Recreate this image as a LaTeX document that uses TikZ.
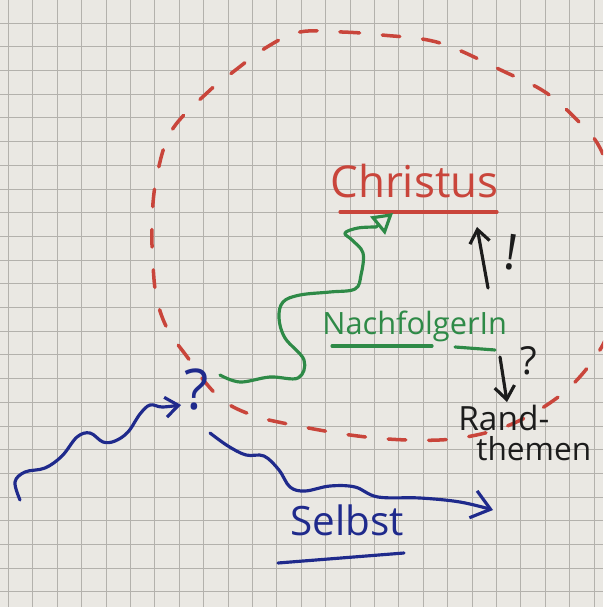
\documentclass[tikz,border=0pt]{standalone}
\usepackage{fontspec}
\setmainfont{Open Sans}
\usetikzlibrary{arrows.meta}
\definecolor{paper}{HTML}{EAE8E3}
\definecolor{gridgray}{HTML}{B3B1AC}
\definecolor{penred}{HTML}{C9453B}
\definecolor{pengreen}{HTML}{2E8A47}
\definecolor{penblue}{HTML}{1F2A8C}
\definecolor{penblack}{HTML}{1C1C1C}
\begin{document}
\begin{tikzpicture}[x=0.02cm, y=-0.02cm, every node/.style={inner sep=0pt},
    gridline/.style={draw=gridgray, line width=0.45pt},
    pen/.style={line width=1.8pt, line cap=round, line join=round},
    circledash/.style={pen, draw=penred, line width=2pt, dash pattern=on 10pt off 13pt}]
\useasboundingbox (0,0) rectangle (603,607);
\fill[paper] (0,0) rectangle (603,607);
\begin{scope}
\clip (0,0) rectangle (603,607);
    \foreach \gx in {0,...,24}
        \draw[gridline] ({8.3+24.4*\gx},0) -- ({8.3+24.4*\gx},607);
    \foreach \gy in {0,...,24}
        \draw[gridline] (0,{23+23.7*\gy}) -- (603,{23+23.7*\gy});
% dashed circle
\draw[circledash] plot[smooth cycle, tension=0.6] coordinates {(300,32) (342,32) (382,35) (440,43) (505,72) (545,92) (575,118) (600,148) (617,200) (621,260) (612,320) (596,356) (562,394) (512,424) (460,438) (408,440) (350,435) (283,423) (252,415) (225,402) (205,382) (188,358) (168,330) (157,300) (153,265) (152,220) (157,175) (172,130) (208,92) (233,72) (267,47)};
\end{scope}
    \node[anchor=base west, text=penred, font=\fontsize{25}{29}\selectfont] (christus) at (330,198) {Christus};
    \node[anchor=base west, text=pengreen, font=\fontsize{17.5}{21}\selectfont] (nachfolger) at (322,334) {NachfolgerIn};
    \node[anchor=base west, text=penblue, font=\fontsize{23}{27}\selectfont] (selbst) at (290,535) {Selbst};
    \node[anchor=base west, text=penblack, font=\fontsize{19}{21}\selectfont] (rand) at (458,430) {Rand-};
    \node[anchor=base west, text=penblack, font=\fontsize{18}{20}\selectfont] (themen) at (476,460) {themen};
    \node[text=penblue, font=\fontsize{32}{36}\selectfont] (qblue) at (197,390) {?};
    \node[text=penblack, font=\fontsize{22}{26}\selectfont] (qblack) at (529,361) {?};
    \node[text=penblack, font=\fontsize{28}{32}\selectfont, rotate=-8] (excl) at (511,252) {!};
\coordinate (upS) at (488,288);
\coordinate (upE) at (477,227);
\coordinate (downS) at (500,357);
\coordinate (downE) at (507,402);
    \foreach \from/\to in {upS/upE, downS/downE}
        \draw[pen, penblack, -{Straight Barb[length=2.6mm, width=4mm]}] (\from) -- (\to);
% underlines
\draw[pen, penred] (340,212) -- (497,212);
\draw[pen, pengreen] (332,346) -- (432,346);
\draw[pen, pengreen] (455,347) -- (495,350);
\draw[pen, penblue] (278,563) -- (404,553);
% way to Christus
\draw[pen, pengreen, -{Triangle[open, length=4mm, width=4.6mm]}] plot[smooth, tension=0.6] coordinates {(220,375) (240,382) (270,377) (298,378) (304,360) (285,338) (279,318) (283,302) (300,295) (330,292) (355,289) (361,275) (363,253) (352,240) (345,233) (358,228) (376,227)} -- (393,213);
% ways of the self
\draw[pen, penblue, -{Straight Barb[length=2.6mm, width=4mm]}] plot[smooth, tension=0.6] coordinates {(20,500) (15,482) (25,472) (45,468) (62,456) (77,437) (90,433) (103,442) (115,441) (128,432) (140,414) (150,405) (162,407) (181,405)};
\draw[pen, penblue, -{Straight Barb[length=3.6mm, width=5.6mm]}] plot[smooth, tension=0.6] coordinates {(210,433) (228,446) (246,455) (264,456) (279,470) (290,487) (305,491) (330,486) (355,487) (378,497) (420,498) (460,502) (493,510)};
\end{tikzpicture}
\end{document}
